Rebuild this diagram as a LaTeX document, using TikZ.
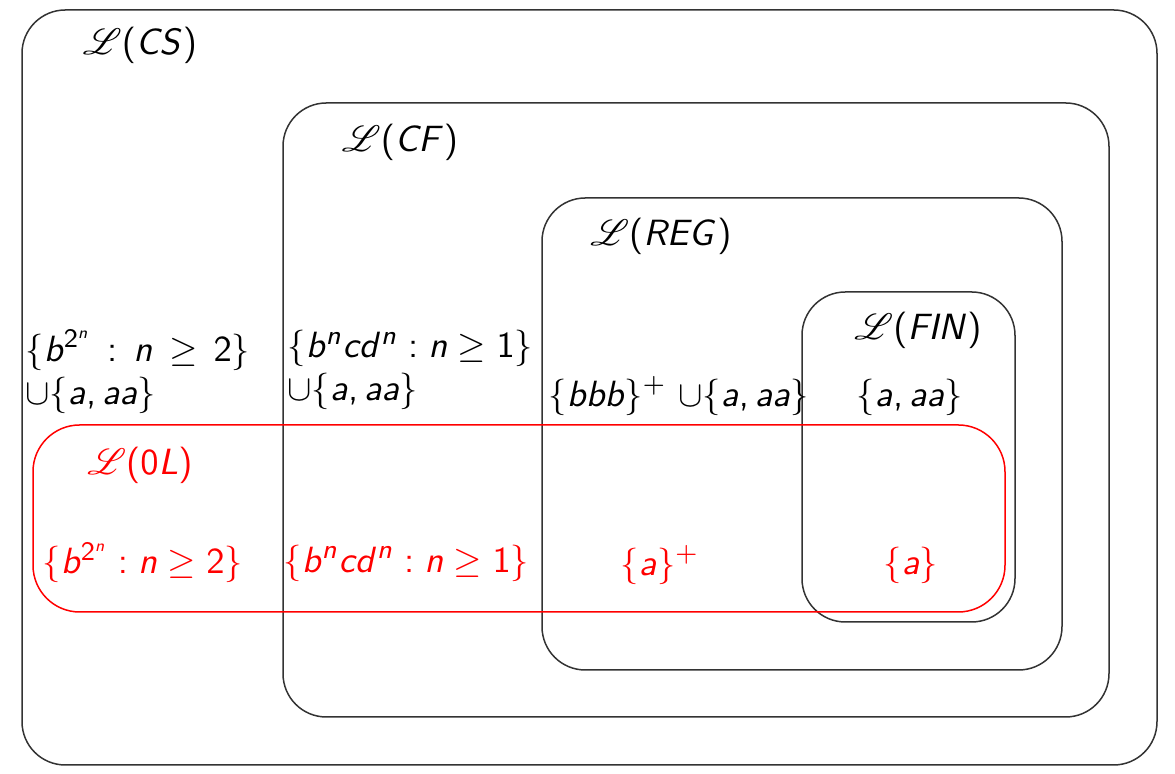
\documentclass[tikz,border=0pt]{standalone}
\usepackage{mathrsfs}
% Letras de las formulas en sans cursiva
\DeclareSymbolFont{sfletras}{OT1}{cmss}{m}{sl}
\DeclareSymbolFont{sfrectas}{OT1}{cmss}{m}{n}
\DeclareMathSymbol{a}{\mathalpha}{sfletras}{`a}
\DeclareMathSymbol{b}{\mathalpha}{sfletras}{`b}
\DeclareMathSymbol{c}{\mathalpha}{sfletras}{`c}
\DeclareMathSymbol{d}{\mathalpha}{sfletras}{`d}
\DeclareMathSymbol{n}{\mathalpha}{sfletras}{`n}
\DeclareMathSymbol{C}{\mathalpha}{sfletras}{`C}
\DeclareMathSymbol{S}{\mathalpha}{sfletras}{`S}
\DeclareMathSymbol{F}{\mathalpha}{sfletras}{`F}
\DeclareMathSymbol{R}{\mathalpha}{sfletras}{`R}
\DeclareMathSymbol{E}{\mathalpha}{sfletras}{`E}
\DeclareMathSymbol{G}{\mathalpha}{sfletras}{`G}
\DeclareMathSymbol{I}{\mathalpha}{sfletras}{`I}
\DeclareMathSymbol{N}{\mathalpha}{sfletras}{`N}
\DeclareMathSymbol{L}{\mathalpha}{sfletras}{`L}
\DeclareMathSymbol{0}{\mathalpha}{sfrectas}{`0}
\DeclareMathSymbol{1}{\mathalpha}{sfrectas}{`1}
\DeclareMathSymbol{2}{\mathalpha}{sfrectas}{`2}
\DeclareMathSymbol{,}{\mathpunct}{sfrectas}{`,}
\DeclareMathSymbol{+}{\mathbin}{sfrectas}{`+}
\DeclareMathSymbol{(}{\mathopen}{sfrectas}{`(}
\DeclareMathSymbol{)}{\mathclose}{sfrectas}{`)}
\DeclareMathSymbol{:}{\mathrel}{sfrectas}{`:}
\begin{document}
\begin{tikzpicture}[x=0.3pt,y=-0.3pt,
    caja/.style={draw=black!80, line width=0.45pt, rounded corners=13pt},
    cajaroja/.style={draw=red, line width=0.45pt, rounded corners=14pt},
    texto/.style={inner sep=0pt, font=\fontsize{11}{13}\selectfont},
    rojo/.style={texto, text=red}]
    \useasboundingbox (0,0) rectangle (1175,774);

    % Clases
    \draw[caja] (22,10) rectangle (1157,765);
    \draw[caja] (283,103) rectangle (1109,717);
    \draw[caja] (542,198) rectangle (1062,670);
    \draw[caja] (802,292) rectangle (1015,622);
    \draw[cajaroja] (33,425) rectangle (1005,612);

    % Nombres
    \node[texto] (cs) at (140,45) {$\mathscr{L}(CS)$};
    \node[texto] (cf) at (400,142) {$\mathscr{L}(CF)$};
    \node[texto] (reg) at (661,236) {$\mathscr{L}(REG)$};
    \node[texto] (fin) at (918,330) {$\mathscr{L}(FIN)$};
    \node[rojo] (ol) at (140,465) {$\mathscr{L}(0L)$};

    % Ejemplos
    \node[texto, anchor=west, align=left] (excs) at (25,372) {$\{b^{2^n}\,:\,n\,\geq\,2\}$\\$\cup\{a,aa\}$};
    \node[texto, anchor=west, align=left] (excf) at (287,370) {$\{b^ncd^n:n\geq 1\}$\\$\cup\{a,aa\}$};
    \node[texto, anchor=west] (exreg) at (548,396) {$\{bbb\}^+$ $\cup\{a,aa\}$};
    \node[texto] (exfin) at (910,397) {$\{a,aa\}$};

    % Ejemplos 0L
    \node[rojo, anchor=west] (olcs) at (42,563) {$\{b^{2^n}:n\geq 2\}$};
    \node[rojo, anchor=west] (olcf) at (283,563) {$\{b^ncd^n:n\geq 1\}$};
    \node[rojo] (olreg) at (660,565) {$\{a\}^+$};
    \node[rojo] (olfin) at (911,565) {$\{a\}$};
\end{tikzpicture}
\end{document}
